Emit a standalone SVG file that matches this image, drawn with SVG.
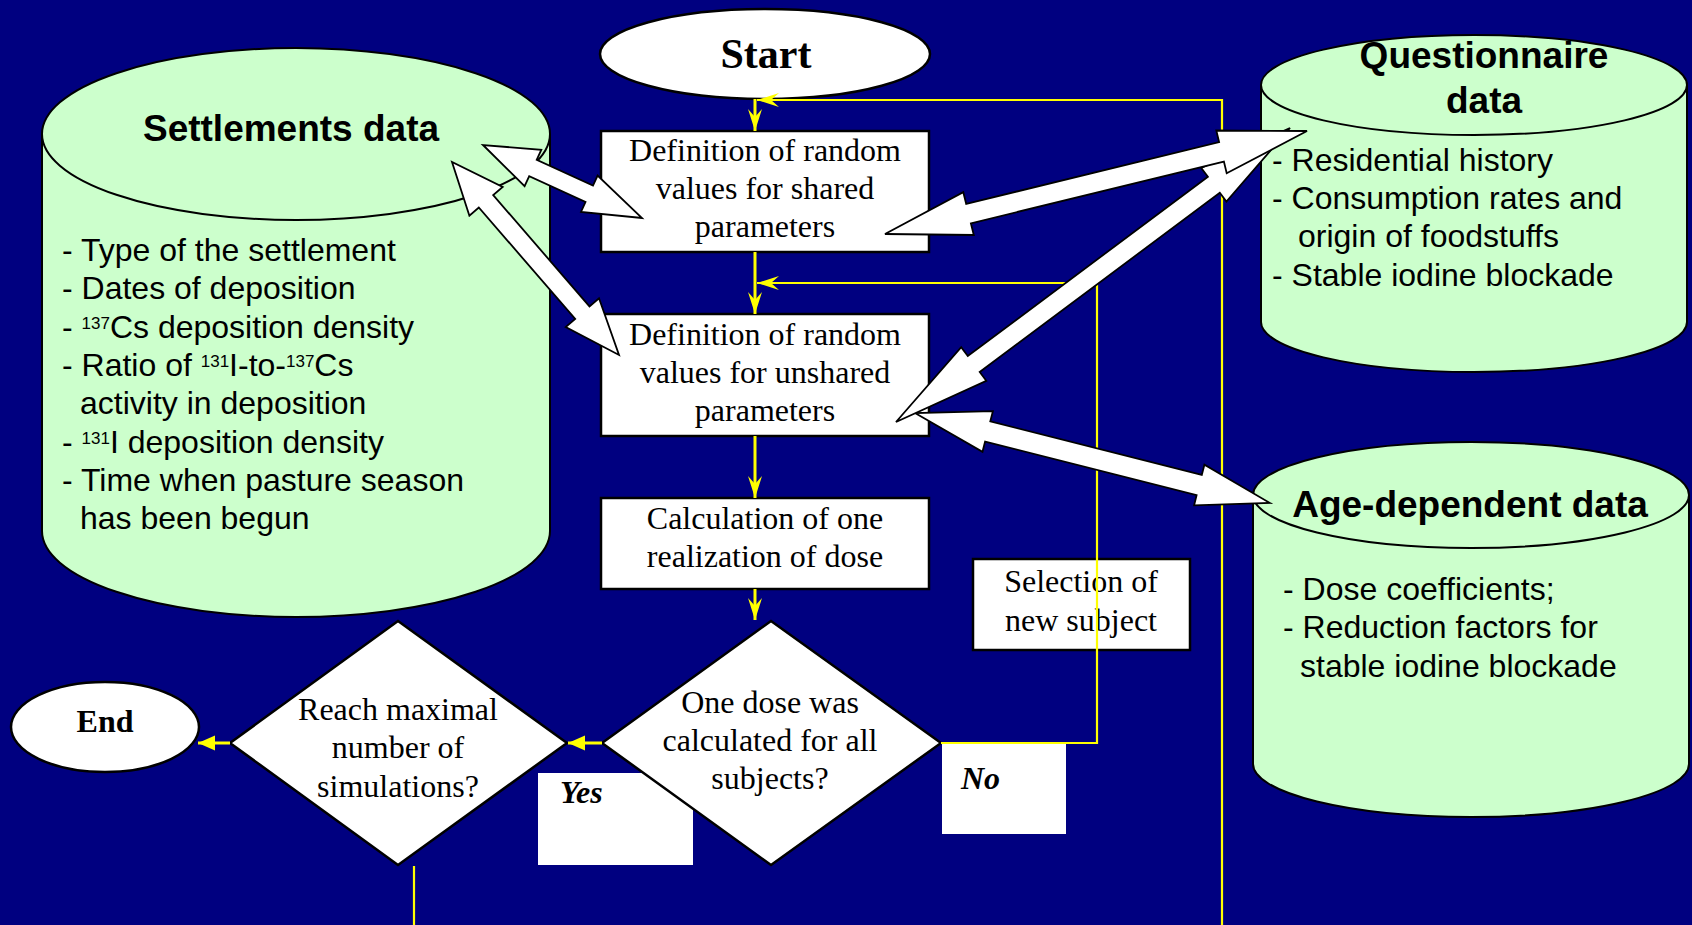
<svg xmlns="http://www.w3.org/2000/svg" width="1692" height="925" viewBox="0 0 1692 925">
<style>
.bg{fill:#000080}
.cyl{fill:#CCFFCC;stroke:#000;stroke-width:2}
.cyl-rim{fill:none;stroke:#000;stroke-width:2}
.box{fill:#fff;stroke:#000;stroke-width:2.5}
.lbl{fill:#fff}
.serif{font-family:"Liberation Serif","Times New Roman",serif;font-size:32px;fill:#000;text-anchor:middle}
.sans{font-family:"Liberation Sans",Arial,sans-serif;font-size:32px;fill:#000}
.title{font-family:"Liberation Sans",Arial,sans-serif;font-size:37px;font-weight:bold;fill:#000;text-anchor:middle}
.sup{font-size:17px}
.bi{font-family:"Liberation Serif","Times New Roman",serif;font-size:32px;font-weight:bold;font-style:italic;fill:#000}
.flow{fill:none;stroke:#FFFF00;stroke-width:3}
.thin{fill:none;stroke:#FFFF00;stroke-width:2.2}
.barrow{fill:#fff;stroke:#000;stroke-width:1.8;stroke-linejoin:miter}
</style>
<defs>
<marker id="vh" markerUnits="userSpaceOnUse" markerWidth="24" markerHeight="16" refX="22" refY="8" orient="auto">
<path d="M22,8 L0,1 L8,8 L0,15 Z" fill="#FFFF00"/>
</marker>
<marker id="th" markerUnits="userSpaceOnUse" markerWidth="18" markerHeight="16" refX="17" refY="8" orient="auto">
<path d="M17,8 L0,0.5 L0,15.5 Z" fill="#FFFF00"/>
</marker>
</defs>
<rect class="bg" x="0" y="0" width="1692" height="925"/>

<g id="settlements">
<path class="cyl" d="M42,134 L42,531 A254,86 0 0 0 550,531 L550,134 A254,86 0 0 0 42,134 Z"/>
<path class="cyl-rim" d="M42,134 A254,86 0 0 0 550,134"/>
<text class="title" x="291" y="141">Settlements data</text>
<text class="sans" x="62" y="261">- Type of the settlement</text>
<text class="sans" x="62" y="299">- Dates of deposition</text>
<text class="sans" x="62" y="338">- <tspan class="sup" dy="-9">137</tspan><tspan dy="9">Cs deposition density</tspan></text>
<text class="sans" x="62" y="376">- Ratio of <tspan class="sup" dy="-9">131</tspan><tspan dy="9">I-to-</tspan><tspan class="sup" dy="-9">137</tspan><tspan dy="9">Cs</tspan></text>
<text class="sans" x="80" y="414">activity in deposition</text>
<text class="sans" x="62" y="453">- <tspan class="sup" dy="-9">131</tspan><tspan dy="9">I deposition density</tspan></text>
<text class="sans" x="62" y="491">- Time when pasture season</text>
<text class="sans" x="80" y="529">has been begun</text>
</g>

<g id="questionnaire">
<path class="cyl" d="M1261,85 L1261,322 A213,50 0 0 0 1687,322 L1687,85 A213,50 0 0 0 1261,85 Z"/>
<path class="cyl-rim" d="M1261,85 A213,50 0 0 0 1687,85"/>
<text class="title" x="1484" y="68">Questionnaire</text>
<text class="title" x="1484" y="113">data</text>
<text class="sans" x="1272" y="171">- Residential history</text>
<text class="sans" x="1272" y="209">- Consumption rates and</text>
<text class="sans" x="1298" y="247">origin of foodstuffs</text>
<text class="sans" x="1272" y="286">- Stable iodine blockade</text>
</g>

<g id="age">
<path class="cyl" d="M1253,495 L1253,764 A218,53 0 0 0 1689,764 L1689,495 A218,53 0 0 0 1253,495 Z"/>
<path class="cyl-rim" d="M1253,495 A218,53 0 0 0 1689,495"/>
<text class="title" x="1470" y="517">Age-dependent data</text>
<text class="sans" x="1283" y="600">- Dose coefficients;</text>
<text class="sans" x="1283" y="638">- Reduction factors for</text>
<text class="sans" x="1300" y="677">stable iodine blockade</text>
</g>

<g id="start">
<ellipse class="box" cx="765" cy="54" rx="165" ry="45"/>
<text class="serif" x="766" y="68" style="font-size:42px;font-weight:bold">Start</text>
</g>

<g id="shared">
<rect class="box" x="601" y="131" width="328" height="121"/>
<text class="serif" x="765" y="161">Definition of random</text>
<text class="serif" x="765" y="199">values for shared</text>
<text class="serif" x="765" y="237">parameters</text>
</g>

<g id="unshared">
<rect class="box" x="601" y="314" width="328" height="122"/>
<text class="serif" x="765" y="345">Definition of random</text>
<text class="serif" x="765" y="383">values for unshared</text>
<text class="serif" x="765" y="421">parameters</text>
</g>

<g id="calc">
<rect class="box" x="601" y="498" width="328" height="91"/>
<text class="serif" x="765" y="529">Calculation of one</text>
<text class="serif" x="765" y="567">realization of dose</text>
</g>

<g id="selection">
<rect class="box" x="973" y="559" width="217" height="91"/>
<text class="serif" x="1081" y="592">Selection of</text>
<text class="serif" x="1081" y="631">new subject</text>
</g>

<g id="yes">
<rect class="lbl" x="538" y="773" width="155" height="92"/>
<text class="bi" x="560" y="803">Yes</text>
</g>

<g id="no">
<rect class="lbl" x="942" y="744" width="124" height="90"/>
<text class="bi" x="961" y="789">No</text>
</g>

<g id="allsubjects">
<path class="box" d="M771,621 L941,743 L771,865 L602,743 Z"/>
<text class="serif" x="770" y="713">One dose was</text>
<text class="serif" x="770" y="751">calculated for all</text>
<text class="serif" x="770" y="789">subjects?</text>
</g>

<g id="maxsim">
<path class="box" d="M398,621 L567,743 L398,865 L230,743 Z"/>
<text class="serif" x="398" y="720">Reach maximal</text>
<text class="serif" x="398" y="758">number of</text>
<text class="serif" x="398" y="797">simulations?</text>
</g>

<g id="end">
<ellipse class="box" cx="105" cy="727" rx="94" ry="45"/>
<text class="serif" x="105" y="732" style="font-weight:bold">End</text>
</g>

<g id="connectors">
<path class="flow" d="M755,99 L755,131" marker-end="url(#vh)"/>
<path class="thin" d="M1222,925 L1222,100 L757,100" marker-end="url(#vh)"/>
<path class="flow" d="M755,252 L755,314" marker-end="url(#vh)"/>
<path class="thin" d="M941,743 L1097,743 L1097,283 L757,283" marker-end="url(#vh)"/>
<path class="flow" d="M755,436 L755,498" marker-end="url(#vh)"/>
<path class="flow" d="M755,589 L755,620" marker-end="url(#vh)"/>
<path class="flow" d="M602,743 L568,743" marker-end="url(#th)"/>
<path class="flow" d="M230,743 L198,743" marker-end="url(#th)"/>
<path class="thin" d="M414,866 L414,925"/>
<polygon class="barrow" points="483,145 524.6,186.1 529.2,176.1 585.5,202.0 581.0,212.0 642,218 597.6,175.6 593.0,185.6 536.7,159.8 541.3,149.8"/>
<polygon class="barrow" points="452,162 469.4,215.7 478.8,207.5 575.2,318.9 565.7,327.0 619,355 599.0,298.3 589.5,306.4 493.2,195.1 502.7,186.9"/>
<polygon class="barrow" points="915,413 982.5,451.8 985.1,441.6 1196.6,495.2 1194.1,505.4 1270,503 1204.4,464.7 1201.8,474.9 990.3,421.3 992.9,411.1"/>
<polygon class="barrow" points="896,422 986.3,380.8 979.7,372.0 1219.8,192.8 1226.4,201.6 1290,128 1201.3,168.0 1207.9,176.8 967.8,356.0 961.2,347.2"/>
<polygon class="barrow" points="885,234 973.8,235.0 970.9,223.3 1223.9,161.6 1226.7,173.2 1307,131 1216.3,130.5 1219.1,142.1 966.2,203.9 963.3,192.2"/>
</g>
</svg>
